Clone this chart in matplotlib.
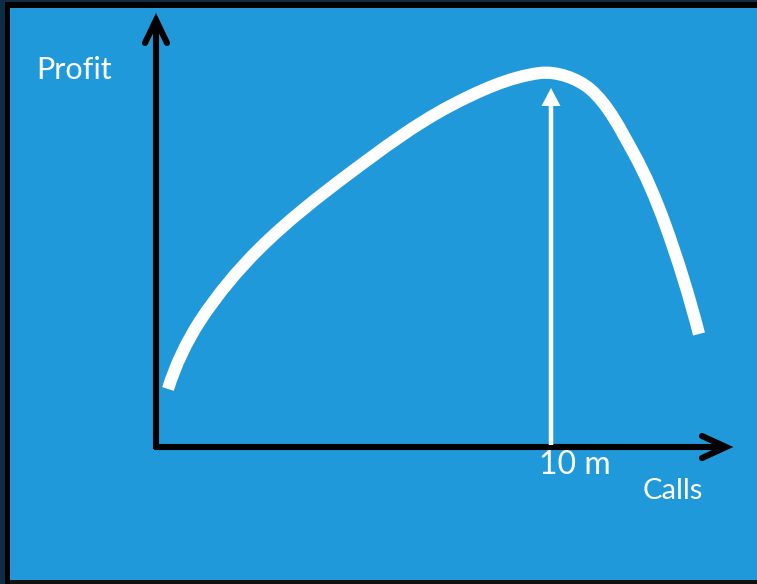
import matplotlib
matplotlib.use("Agg")
import matplotlib.pyplot as plt
import numpy as np
from matplotlib.patches import Rectangle, PathPatch
from matplotlib.path import Path

# ---- data (pixel-space coordinates) ----
curve_x = [168, 200, 260, 350, 450, 540, 590, 633, 665, 699]
curve_y = [389, 321, 248, 173, 106, 73, 89, 152, 224, 334]
peak_x = 551
y_label = "Profit"
x_label = "Calls"
peak_label = "10 m"

BLUE = "#2099DB"
NAVY = "#0E2C44"

W, H = 757, 584
fig = plt.figure(figsize=(W / 100, H / 100), dpi=100)
fig.patch.set_facecolor(BLUE)
ax = fig.add_axes([0, 0, 1, 1])
ax.set_xlim(0, W)
ax.set_ylim(H, 0)
ax.axis("off")
ax.set_facecolor(BLUE)

# frame borders
ax.add_patch(Rectangle((0, 0), 5, H, color=NAVY, lw=0))
ax.add_patch(Rectangle((5, 0), 5, H, color="black", lw=0))
ax.add_patch(Rectangle((0, 0), W, 2, color=NAVY, lw=0))
ax.add_patch(Rectangle((5, 2), W, 6, color="black", lw=0))
ax.add_patch(Rectangle((10, 580), W, 4, color="#111111", lw=0))

lw_axis = 4.4
ox, oy = 156, 447
ytip = 20
xtip = 726
ax.plot([ox, ox], [oy + 2, ytip + 2], color="black", lw=lw_axis, solid_capstyle="butt")
ax.plot([ox - 2, xtip - 2], [oy, oy], color="black", lw=lw_axis, solid_capstyle="butt")
ax.plot([ox - 11, ox, ox + 11], [ytip + 23, ytip, ytip + 23], color="black", lw=lw_axis,
        solid_capstyle="round", solid_joinstyle="miter")
ax.plot([xtip - 24, xtip, xtip - 24], [oy - 11, oy, oy + 11], color="black", lw=lw_axis,
        solid_capstyle="round", solid_joinstyle="miter")

# white peak arrow
peak_y = min(curve_y) + 15
ax.arrow(peak_x, oy - 2, 0, peak_y - (oy - 2), width=4.5, head_width=19, head_length=18,
         length_includes_head=True, color="white", lw=0, zorder=3)

# smooth curve through the read points (chord-length Hermite -> cubic Bezier path)
P = np.column_stack([curve_x, curve_y]).astype(float)
n = len(P)
d = np.linalg.norm(np.diff(P, axis=0), axis=1)
t = np.concatenate([[0], np.cumsum(d)])
M = np.zeros_like(P)
for i in range(1, n - 1):
    M[i] = (P[i + 1] - P[i - 1]) / (t[i + 1] - t[i - 1])
for i, j, k in ((0, 1, 0), (n - 1, n - 2, n - 2)):
    c = (P[max(i, j)] - P[min(i, j)]) / d[k]
    M[i] = 2 * np.dot(M[j], c) * c - M[j]
    M[i] /= np.linalg.norm(M[i])
verts = [tuple(P[0])]
codes = [Path.MOVETO]
for i in range(n - 1):
    h = d[i]
    verts += [tuple(P[i] + M[i] * h / 3), tuple(P[i + 1] - M[i + 1] * h / 3), tuple(P[i + 1])]
    codes += [Path.CURVE4] * 3
ax.add_patch(PathPatch(Path(verts, codes), facecolor="none", edgecolor="white", lw=8.8,
                       capstyle="butt", joinstyle="round", zorder=4))

font = ["Lato", "DejaVu Sans"]
ax.text(36, 79, y_label, color="white", fontsize=22, family=font, va="baseline", ha="left")
ax.text(539, 474, peak_label, color="white", fontsize=23, family=font, va="baseline", ha="left")
ax.text(643, 499, x_label, color="white", fontsize=21, family=font,
        va="baseline", ha="left")

fig.savefig("out.png", dpi=100, facecolor=BLUE)
